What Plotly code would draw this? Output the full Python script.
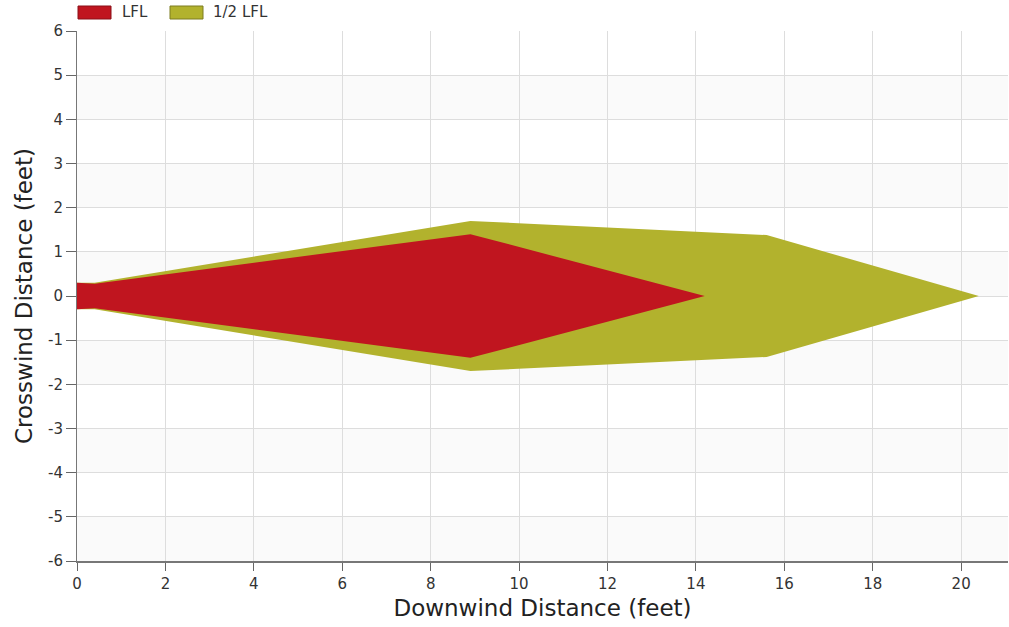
import plotly.graph_objects as go

# Plume footprint half-widths (feet) along the downwind axis
half_lfl_x = [0.0, 0.4, 8.9, 15.6, 20.4]
half_lfl_w = [0.30, 0.30, 1.70, 1.38, 0.0]

lfl_x = [0.0, 0.4, 8.9, 14.2]
lfl_w = [0.30, 0.28, 1.40, 0.0]

series_names = ["LFL", "1/2 LFL"]
series_colors = ["#C0151F", "#B2B22D"]

x_ticks = [0, 2, 4, 6, 8, 10, 12, 14, 16, 18, 20]
y_ticks = [-6, -5, -4, -3, -2, -1, 0, 1, 2, 3, 4, 5, 6]
y_tick_text = ["-6", "-5", "-4", "-3", "-2", "-1", "0",
               "1", "2", "3", "4", "5", "6"]


def outline(xs, ws):
    """Closed outline: upper edge out, mirrored lower edge back."""
    px = list(xs) + list(reversed(xs))
    py = list(ws) + [-w for w in reversed(ws)]
    return px, py


fig = go.Figure()

hx, hy = outline(half_lfl_x, half_lfl_w)
fig.add_trace(go.Scatter(x=hx, y=hy, fill="toself", mode="lines",
                         line=dict(width=0), fillcolor=series_colors[1],
                         name=series_names[1], showlegend=False,
                         hoverinfo="skip"))
lx, ly = outline(lfl_x, lfl_w)
fig.add_trace(go.Scatter(x=lx, y=ly, fill="toself", mode="lines",
                         line=dict(width=0), fillcolor=series_colors[0],
                         name=series_names[0], showlegend=False,
                         hoverinfo="skip"))

W, H = 1009, 627
ML, MR, MT, MB = 77, 1, 31, 66
PW, PH = W - ML - MR, H - MT - MB


def px_x(p):
    return (p - ML) / PW


def px_y(p):
    return (H - MB - p) / PH


shapes = []
# faint alternating horizontal bands
for lo in range(-6, 6, 2):
    shapes.append(dict(type="rect", xref="paper", yref="y", x0=0, x1=1,
                       y0=lo, y1=lo + 1, fillcolor="#FAFAFA",
                       line=dict(width=0), layer="below"))

# legend swatches and labels (pixel positions)
annotations = []
legend_items = [(78, 121, series_names[0], series_colors[0], "#8a1018"),
                (170, 212, series_names[1], series_colors[1], "#7d7d20")]
for sx, tx, label, col, edge in legend_items:
    shapes.append(dict(type="rect", xref="paper", yref="paper",
                       x0=px_x(sx), x1=px_x(sx + 33),
                       y0=px_y(19), y1=px_y(6),
                       fillcolor=col, line=dict(color=edge, width=1)))
    annotations.append(dict(xref="paper", yref="paper", x=px_x(tx),
                            y=px_y(12.5), text=label,
                            showarrow=False, xanchor="left",
                            yanchor="middle", borderpad=0,
                            font=dict(family="DejaVu Sans", size=15,
                                      color="#333333")))

fig.update_layout(
    width=W, height=H,
    margin=dict(l=ML, r=MR, t=MT, b=MB),
    paper_bgcolor="white", plot_bgcolor="white",
    showlegend=False,
    shapes=shapes, annotations=annotations,
    font=dict(family="DejaVu Sans", color="#333333"),
    xaxis=dict(
        range=[0, 21.06], tickvals=x_ticks,
        ticks="outside", ticklen=8, tickcolor="#666666",
        tickfont=dict(size=15, color="#333333"),
        showgrid=True, gridcolor="#DDDDDD", gridwidth=1,
        showline=True, linecolor="#777777", linewidth=2,
        zeroline=False,
        title=dict(text="Downwind Distance (feet)", standoff=8,
                   font=dict(size=23, color="#222222")),
    ),
    yaxis=dict(
        range=[-6, 6], tickvals=y_ticks, ticktext=y_tick_text,
        ticks="outside", ticklen=10, tickcolor="#666666",
        tickfont=dict(size=15, color="#333333"),
        showgrid=True, gridcolor="#DDDDDD", gridwidth=1,
        showline=True, linecolor="#777777", linewidth=1,
        zeroline=False,
        title=dict(text="Crosswind Distance (feet)", standoff=8,
                   font=dict(size=23, color="#222222")),
    ),
)

fig.write_html("out.html")
